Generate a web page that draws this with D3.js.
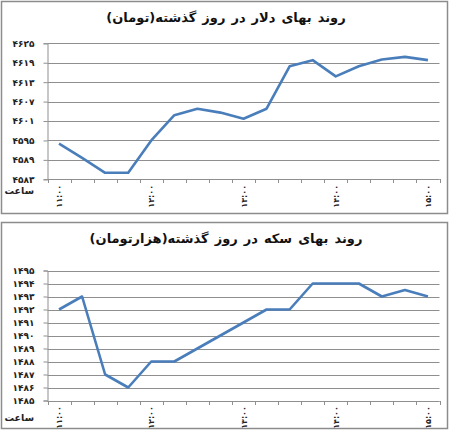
<!DOCTYPE html>
<html>
<head>
<meta charset="utf-8">
<script src="https://cdn.jsdelivr.net/npm/d3@7"></script>
<style>
  body { margin: 0; background: #fff; }
  svg { display: block; font-family: "DejaVu Sans", sans-serif; }
</style>
</head>
<body>
<svg id="chart" width="450" height="439"></svg>
<script>
// quarter-hour times from 11:00 to 15:00
let times = ["11:00","11:15","11:30","11:45","12:00","12:15","12:30","12:45",
             "13:00","13:15","13:30","13:45","14:00","14:15","14:30","14:45","15:00"];
let timeLabels = ["11:00","12:00","13:00","14:00","15:00"];

// dollar price (toman)
let dollarValues = [4594, 4589.6, 4585, 4585, 4595, 4602.8, 4604.8, 4603.6, 4601.7,
                    4604.8, 4617.9, 4619.8, 4614.8, 4617.9, 4620, 4620.8, 4619.8];
let dollarTicks = [4583, 4589, 4595, 4601, 4607, 4613, 4619, 4625];

// gold coin price (thousand toman)
let coinValues = [1492, 1493, 1487, 1486, 1488, 1488, 1489, 1490, 1491,
                  1492, 1492, 1494, 1494, 1494, 1493, 1493.5, 1493];
let coinTicks = [1485, 1486, 1487, 1488, 1489, 1490, 1491, 1492, 1493, 1494, 1495];

let titles = ["روند بهای دلار در روز گذشته(تومان)", "روند بهای سکه در روز گذشته(هزارتومان)"];
let hourLabel = "ساعت";

function toFa(s) {
    return String(s).replace(/\d/g, function (d) { return "۰۱۲۳۴۵۶۷۸۹"[+d]; });
}

function load_lineChart(svg, top, boxHeight, title, values, ticks, plotTop, plotBottom, hourY) {

    let g = svg.append("g").attr("transform", "translate(0," + top + ")");

    // frame
    g.append("rect")
        .attr("x", 1.5).attr("y", 1.5)
        .attr("width", 446).attr("height", boxHeight)
        .attr("fill", "#fff")
        .attr("stroke", "#8c8c8c")
        .attr("stroke-width", 1.5);

    // title
    g.append("text")
        .text(title)
        .attr("x", 226)
        .attr("y", 22)
        .attr("font-size", 13)
        .attr("font-weight", "bold")
        .attr("word-spacing", 1.5)
        .attr("fill", "#111")
        .style("text-anchor", "middle");

    // x band scale
    let x = d3.scaleBand()
        .domain(times)
        .range([47.5, 439.5]);

    // y position scale
    let y = d3.scaleLinear()
        .domain(d3.extent(ticks))
        .range([plotBottom, plotTop]);

    // gridlines
    g.append("g")
        .selectAll("line")
        .data(ticks).enter()
        .append("line")
            .attr("x1", 47.5)
            .attr("x2", 439.5)
            .attr("y1", function (d) { return Math.round(y(d)) + 0.5; })
            .attr("y2", function (d) { return Math.round(y(d)) + 0.5; })
            .attr("stroke", "#8f8f8f")
            .attr("stroke-width", 1);

    // y axis
    let yAxis = d3.axisLeft(y)
        .tickValues(ticks)
        .tickSize(4)
        .tickPadding(9)
        .tickFormat(function (d) { return toFa(d); });
    let yAxisGroup = g.append("g")
        .attr("transform", "translate(47.5,0)")
        .call(yAxis);
    yAxisGroup.select(".domain").attr("stroke", "#8f8f8f");
    yAxisGroup.selectAll(".tick line").attr("stroke", "#8f8f8f");
    yAxisGroup.selectAll("text")
        .attr("font-size", 9)
        .attr("font-weight", "bold")
        .attr("letter-spacing", 1.8)
        .attr("fill", "#222")
        .attr("font-family", "DejaVu Sans");

    // x axis: ticks at category boundaries
    let bounds = times.map(function (t) { return x(t); }).concat([x.range()[1]]);
    g.append("line")
        .attr("x1", 47.5).attr("x2", 439.5)
        .attr("y1", Math.round(plotBottom) + 0.5).attr("y2", Math.round(plotBottom) + 0.5)
        .attr("stroke", "#8f8f8f");
    g.append("g")
        .selectAll("line")
        .data(bounds).enter()
        .append("line")
            .attr("x1", function (d) { return Math.round(d) + 0.5; })
            .attr("x2", function (d) { return Math.round(d) + 0.5; })
            .attr("y1", Math.round(plotBottom))
            .attr("y2", Math.round(plotBottom) + 4)
            .attr("stroke", "#8f8f8f");

    // hour labels, rotated
    g.append("g")
        .selectAll("text")
        .data(timeLabels).enter()
        .append("text")
            .text(function (d) { return toFa(d); })
            .attr("transform", function (d) {
                return "translate(" + (x(d) + x.bandwidth() / 2 + 3) + "," + (plotBottom + 17) + ") rotate(-90)";
            })
            .attr("font-size", 8)
            .attr("letter-spacing", -0.6)
            .attr("font-weight", "bold")
            .attr("fill", "#222")
            .style("text-anchor", "middle");

    // "hour" label
    g.append("text")
        .text(hourLabel)
        .attr("x", 34)
        .attr("y", plotBottom + hourY)
        .attr("font-size", 9.5)
        .attr("font-weight", "bold")
        .attr("fill", "#222")
        .style("text-anchor", "end");

    // the line
    let line = d3.line()
        .x(function (d, i) { return x(times[i]) + x.bandwidth() / 2; })
        .y(function (d) { return y(d); });
    g.append("path")
        .datum(values)
        .attr("d", line)
        .attr("fill", "none")
        .attr("stroke", "#4a7ebb")
        .attr("stroke-width", 2.6)
        .attr("stroke-linejoin", "round");

    return { chart: g, x_scale: x, y_scale: y };
}

let svg = d3.select("#chart");
load_lineChart(svg, 0, 212, titles[0], dollarValues, dollarTicks, 43.3, 179.3, 14.5);
load_lineChart(svg, 221, 206, titles[1], coinValues, coinTicks, 49.5, 179.5, 20);
</script>
</body>
</html>
